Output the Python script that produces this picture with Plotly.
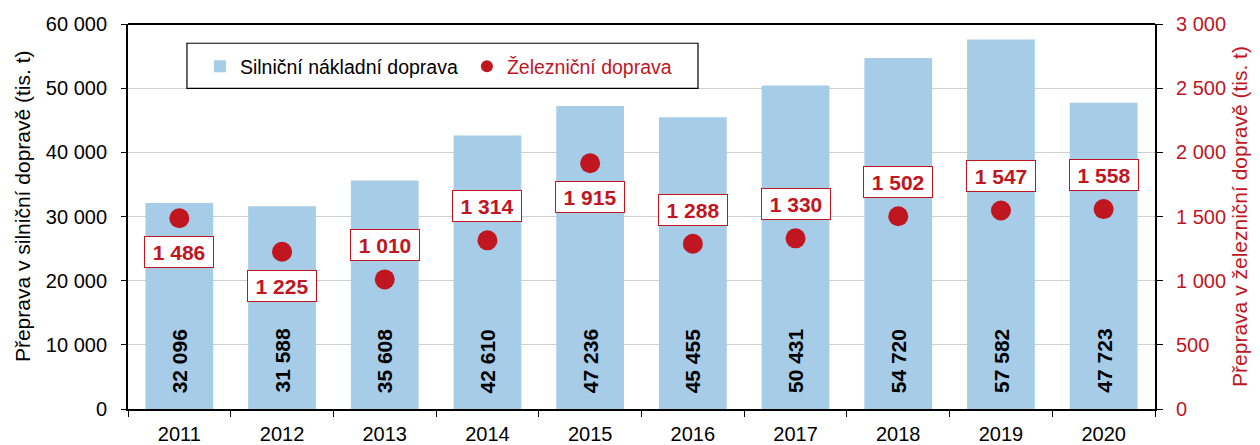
import plotly.graph_objects as go

# Annual freight volumes (thousand tonnes)
years = ["2011", "2012", "2013", "2014", "2015", "2016", "2017", "2018", "2019", "2020"]
road = [32096, 31588, 35608, 42610, 47236, 45455, 50431, 54720, 57582, 47723]
rail = [1486, 1225, 1010, 1314, 1915, 1288, 1330, 1502, 1547, 1558]
# Which side of the dot each rail label sits on
rail_label_side = ["below", "below", "above", "above", "below",
                   "above", "above", "above", "above", "above"]

BLUE = "#a6cce8"
RED = "#c0161f"
FONT = "Liberation Sans, Arial, sans-serif"


def fmt(v):
    return f"{v:,}".replace(",", " ")


fig = go.Figure()

fig.add_trace(go.Bar(
    x=years, y=road, name="Silniční nákladní doprava",
    marker=dict(color=BLUE, line=dict(width=0)),
    width=0.66, yaxis="y",
))

fig.add_trace(go.Scatter(
    x=years, y=rail,
    name=f"<span style='color:{RED}'>Železniční doprava</span>",
    mode="markers", marker=dict(color=RED, size=20, line=dict(width=0)),
    yaxis="y2",
))

annotations = []
# Road values written vertically near the base of each bar
# (annotation x given as the category index on the category axis)
for i, v in enumerate(road):
    annotations.append(dict(
        x=i, y=0, xref="x", yref="y", text=f"<b>{fmt(v)}</b>",
        textangle=-90, showarrow=False, yanchor="bottom", yshift=14,
        font=dict(family=FONT, size=21, color="black"),
    ))

# Rail values in boxed labels beside the dots
for i, (v, side) in enumerate(zip(rail, rail_label_side)):
    annotations.append(dict(
        x=i, y=v, xref="x", yref="y2", text=f"<b>{fmt(v)}</b>",
        showarrow=False, yshift=34 if side == "above" else -34,
        font=dict(family=FONT, size=21, color=RED),
        bgcolor="white", bordercolor=RED, borderwidth=1, borderpad=0,
        width=68, height=30,
    ))

# Left axis title, placed by hand so it sits a little above centre
annotations.append(dict(
    x=-0.1032, y=0.527, xref="paper", yref="paper",
    text="Přeprava v silniční dopravě (tis. t)", textangle=-90,
    showarrow=False, xanchor="center", yanchor="middle",
    font=dict(family=FONT, size=21, color="black"),
))

fig.update_layout(
    width=1260, height=445,
    margin=dict(l=128, r=105, t=24, b=36, autoexpand=False),
    paper_bgcolor="white", plot_bgcolor="white",
    font=dict(family=FONT, size=20, color="black"),
    showlegend=True,
    legend=dict(
        orientation="h", x=0.070, y=0.94, xanchor="left", yanchor="top",
        bgcolor="rgba(0,0,0,0)", borderwidth=0,
        font=dict(family=FONT, size=19.5, color="black"),
        itemwidth=30, entrywidth=222, itemsizing="constant",
    ),
    shapes=[dict(
        type="rect", xref="paper", yref="paper",
        x0=0.0574, x1=0.5550, y0=0.833, y1=0.950,
        line=dict(color="black", width=1.2), fillcolor="rgba(0,0,0,0)",
        layer="above",
    )],
    annotations=annotations,
    xaxis=dict(
        type="category", range=[-0.5, len(years) - 0.5], autorange=False,
        showline=True, linecolor="black", linewidth=2,
        ticks="outside", tickson="boundaries", ticklen=6, tickcolor="black",
        tickfont=dict(size=20), tickangle=0, mirror=False, showgrid=False,
        ticklabelstandoff=6, automargin=False,
    ),
    yaxis=dict(
        range=[0, 60000], dtick=10000, tickformat=",d",
        showline=True, linecolor="black", linewidth=2,
        ticks="outside", ticklen=5, tickcolor="black",
        showgrid=True, gridcolor="#d0d0d0", gridwidth=1,
        zeroline=False, tickfont=dict(size=20), ticklabelstandoff=10,
        automargin=False,
    ),
    yaxis2=dict(
        range=[0, 3000], dtick=500, tickformat=",d",
        overlaying="y", side="right",
        showline=True, linecolor="black", linewidth=2,
        ticks="outside", ticklen=6, tickcolor="black",
        showgrid=False, zeroline=False,
        tickfont=dict(size=20, color=RED), ticklabelstandoff=9,
        automargin=False,
        title=dict(text="Přeprava v železniční dopravě (tis. t)",
                   font=dict(size=21, color=RED), standoff=7),
    ),
    separators=", ",
)

# Top border of the plot area
fig.add_shape(type="line", xref="paper", yref="paper", x0=0, x1=1, y0=1, y1=1,
              line=dict(color="black", width=2))

fig.write_html("out.html")
